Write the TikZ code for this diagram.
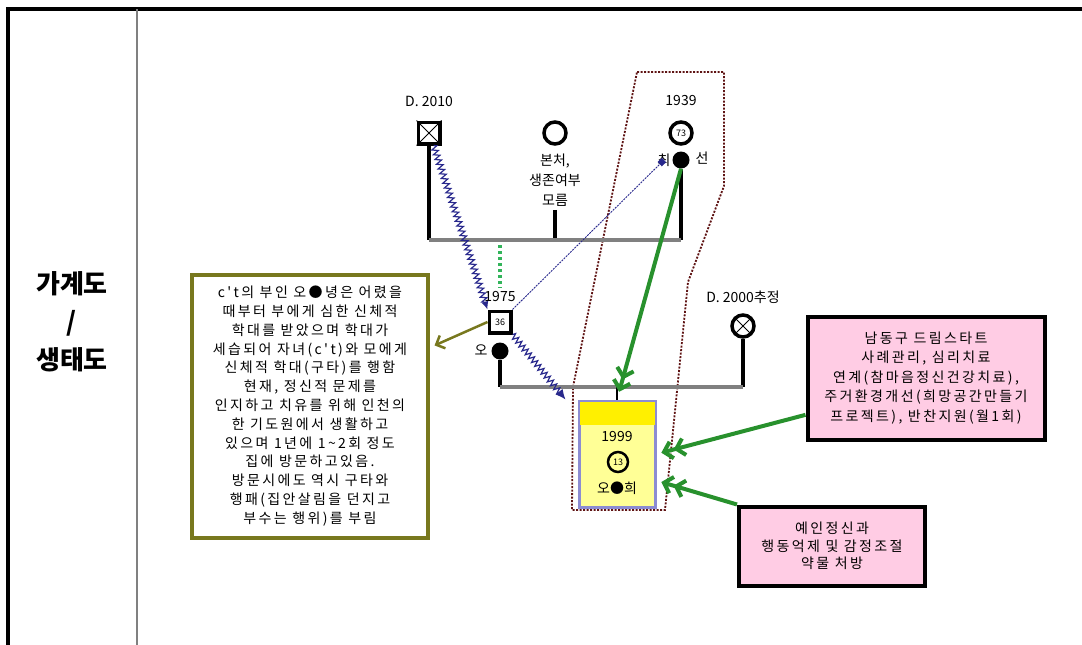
\documentclass[tikz,border=0pt]{standalone}
\usepackage{fontspec}
\setmainfont{Noto Sans CJK KR}
\newfontfamily\krsp[LetterSpace=17]{Noto Sans CJK KR}
\usetikzlibrary{arrows.meta}
\usetikzlibrary{decorations.pathmorphing}
\definecolor{navy}{RGB}{40,40,140}
\definecolor{aidgreen}{RGB}{40,145,45}
\definecolor{dotgreen}{RGB}{50,180,90}
\definecolor{olivedk}{RGB}{120,120,30}
\definecolor{memopink}{RGB}{255,204,228}
\definecolor{homered}{RGB}{95,20,20}
\definecolor{kidline}{RGB}{140,140,210}
\definecolor{kidfill}{RGB}{255,255,150}
\definecolor{kidband}{RGB}{255,240,0}

\begin{document}
\begin{tikzpicture}[x=1pt,y=-1pt,
  male/.style={draw,rectangle,line width=\lw,minimum size=21.5pt,inner sep=0pt,font=\fontsize{9}{9}\selectfont},
  female/.style={draw,circle,line width=\lw,minimum size=22pt,inner sep=0pt,font=\fontsize{9}{9}\selectfont},
  dot/.style={circle,fill=black,minimum size=17pt,inner sep=0pt},
  yr/.style={font=\fontsize{14}{14}\selectfont},
  kin/.style={line width=\lw,black},
  wed/.style={line width=\lw,gray},
  help/.style={line width=4pt,aidgreen,-{Straight Barb[length=8pt,width=17pt]Straight Barb[length=8pt,width=17pt]}},
  hit/.style={navy,line width=1.2pt,decorate,decoration={zigzag,amplitude=3pt,segment length=5pt,post length=7pt}},
  memo/.style={draw,line width=4pt,align=center,inner sep=2pt}]
\def\lw{3.5pt}
\useasboundingbox (0,0) rectangle (1082,645);

% table frame
\draw[line width=3.5pt] (8,645) -- (8,9) -- (1082,9);
\draw[gray,line width=1.6pt] (137,9) -- (137,645);
\node[font=\bfseries\fontsize{26}{38}\selectfont,align=center,name=hdr] at (72,322) {가계도\\/\\생태도};

% household
\draw[homered,line width=1.8pt,dash pattern=on 2pt off 1.5pt] (637,72) -- (724,72) -- (724,186) -- (688,282) -- (665,510) -- (572,510) -- (573,387) -- cycle;

% grandparents
\node[male,name=fa] at (429,133) {};
\draw[line width=1pt] (fa.north west) -- (fa.south east) (fa.north east) -- (fa.south west);
\node[yr,name=fay] at (429,101) {D. 2010};
\node[female,name=w1] at (555,133) {};
\node[align=center,font=\fontsize{14}{20}\selectfont,name=w1t] at (555,180) {본처,\\생존여부\\모름};
\node[female,name=gm] at (681,133) {73};
\node[yr,name=gmy] at (681,101) {1939};
\node[dot,name=gd] at (681,160) {};
\node[font=\fontsize{14}{14}\selectfont,name=gml] at (664,160) {최};
\node[font=\fontsize{14}{14}\selectfont,name=gmr] at (702,158) {선};
\coordinate (m1) at (429,240);
\coordinate (m2) at (555,240);
\coordinate (m3) at (681,240);
\draw[kin] (fa) -- (m1);
\draw[kin] (w1t) -- (m2);
\draw[kin] (gd) -- (m3);
\draw[wed] (m1) -- (m3);

% parents
\node[male,name=so] at (500,322) {36};
\node[yr,name=soy] at (500,297) {1975};
\node[dot,name=sd] at (500,351) {};
\node[font=\fontsize{14}{14}\selectfont,name=sol] at (481,350) {오};
\node[female,name=w2] at (743,326) {};
\draw[line width=1pt] (w2.45) -- (w2.225) (w2.135) -- (w2.315);
\node[yr,name=w2y] at (743,297) {D. 2000추정};
\coordinate (p1) at (500,387);
\coordinate (p2) at (617,387);
\coordinate (p3) at (743,387);
\draw[kin] (sd) -- (p1);
\draw[kin] (w2) -- (p3);
\draw[wed] (p1) -- (p3);
\draw[dotgreen,line width=3.5pt,dash pattern=on 3pt off 3pt] (500,245) -- (soy.north);

% client child
\node[draw=kidline,fill=kidfill,line width=3pt,minimum width=76pt,minimum height=106pt,name=ch] at (617,454) {};
\fill[kidband] ([shift={(2,2)}]ch.north west) rectangle ([shift={(-2,25)}]ch.north east);
\draw[line width=2.5pt] (p2) -- (ch.north);
\node[yr,name=chy] at (617,437) {1999};
\node[female,line width=2.5pt,minimum size=20pt,name=cc] at (618,462) {13};
\node[font=\fontsize{14}{14}\selectfont,name=chn] at (617,488) {오●희};

% notes
\node[memo,draw=olivedk,minimum width=236pt,minimum height=263pt,font=\krsp\fontsize{14}{18.8}\selectfont,name=nb] at (310,406) {c't의 부인 오●녕은 어렸을\\때부터 부에게 심한 신체적\\학대를 받았으며 학대가\\세습되어 자녀(c't)와 모에게\\신체적 학대(구타)를 행함\\현재, 정신적 문제를\\인지하고 치유를 위해 인천의\\한 기도원에서 생활하고\\있으며 1년에 1{\char"7E}2회 정도\\집에 방문하고있음.\\방문시에도 역시 구타와\\행패(집안살림을 던지고\\부수는 행위)를 부림};
\node[memo,fill=memopink,minimum width=237pt,minimum height=123pt,font=\krsp\fontsize{14}{19.5}\selectfont,name=b1] at (926,378) {남동구 드림스타트\\사례관리, 심리치료\\연계(참마음정신건강치료),\\주거환경개선(희망공간만들기\\프로젝트), 반찬지원(월1회)};
\node[memo,fill=memopink,minimum width=186pt,minimum height=79pt,font=\krsp\fontsize{14}{17.5}\selectfont,name=b2] at (832,546) {예인정신과\\행동억제 및 감정조절\\약물 처방};

% relations
\draw[hit,-{Latex[length=8pt,width=7pt]}] (fa.-70) to (so.north west);
\draw[hit,-{Latex[length=10pt,width=9pt]}] (so.south east) to ([xshift=-12pt]ch.north west);
\draw[navy,line width=0.9pt,dash pattern=on 2pt off 1pt,-{Square[length=6pt,width=6pt]}] (so.north east) to (gml.center);
\draw[olivedk,line width=2.5pt,shorten >=5pt,-{Straight Barb[length=7pt,width=14pt]}] (so.west) to (nb.26);
\draw[help,shorten >=8pt] (gd.south) to (ch.north);
\draw[help,shorten >=5pt] (b1.197) to (ch.east);
\draw[help,shorten >=5pt] (b2.north west) to (ch.-34);
\end{tikzpicture}
\end{document}
